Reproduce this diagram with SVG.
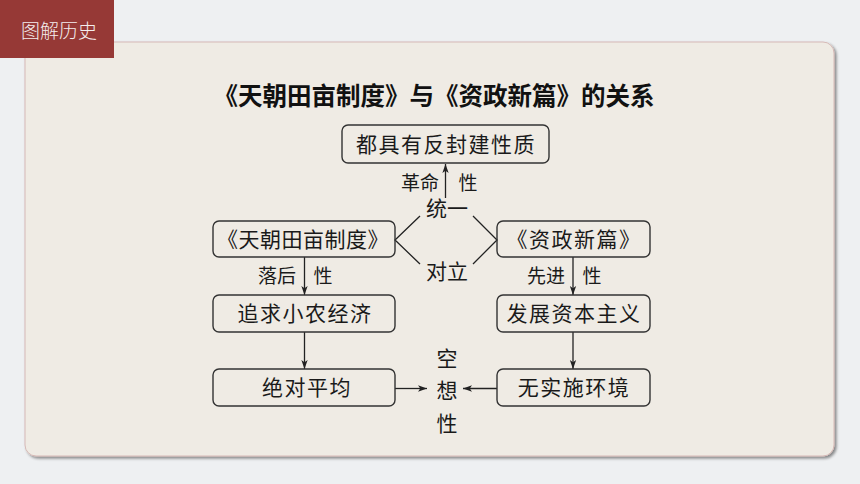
<svg xmlns="http://www.w3.org/2000/svg" width="860" height="484" viewBox="0 0 860 484">
<defs>
<marker id="ah" viewBox="0 0 10 10" refX="10" refY="5" markerWidth="9" markerHeight="9" markerUnits="userSpaceOnUse" orient="auto">
<path d="M0,1.5 L10,5 L0,8.5 L2.5,5 Z" fill="#222"/>
</marker>
<filter id="sh" x="-5%" y="-5%" width="110%" height="110%">
<feGaussianBlur in="SourceAlpha" stdDeviation="1.5"/>
<feOffset dx="2" dy="2"/>
<feComponentTransfer><feFuncA type="linear" slope="0.45"/></feComponentTransfer>
<feMerge><feMergeNode/><feMergeNode in="SourceGraphic"/></feMerge>
</filter>
</defs>
<style>
.box{fill:none;stroke:#333;stroke-width:1.4}
.bt{font-family:"Noto Sans CJK SC","Noto Sans",sans-serif;font-size:21px;fill:#1a1a1a;text-anchor:middle;letter-spacing:1.5px}
.lb{font-family:"Noto Sans CJK SC","Noto Sans",sans-serif;font-size:19px;fill:#1a1a1a;text-anchor:middle}
.lg{font-size:21px}
.cn{stroke:#222;stroke-width:1.3;fill:none}
</style>
<rect x="0" y="0" width="860" height="484" fill="#eef0f2"/>
<rect x="25" y="42" width="809" height="414" rx="11" fill="#efebe4" stroke="#d6b9b6" stroke-width="1" filter="url(#sh)"/>
<rect x="0" y="0" width="114" height="58" fill="#963936"/>
<text x="59" y="38" font-family="'Noto Sans CJK SC',sans-serif" font-size="19" fill="#f4eeee" text-anchor="middle" font-weight="300">图解历史</text>
<text x="434" y="105" font-family="'Noto Sans CJK SC',sans-serif" font-size="24.5" font-weight="bold" fill="#111" text-anchor="middle">《天朝田亩制度》与《资政新篇》的关系</text>

<g id="connectors">
<line class="cn" x1="445.5" y1="198" x2="445.5" y2="164" marker-end="url(#ah)"/>
<polyline class="cn" points="420,216 395,240 420,264"/>
<polyline class="cn" points="473,216 497,240 473,264"/>
<line class="cn" x1="304.5" y1="257" x2="304.5" y2="295" marker-end="url(#ah)"/>
<line class="cn" x1="573" y1="257" x2="573" y2="295" marker-end="url(#ah)"/>
<line class="cn" x1="304.5" y1="332" x2="304.5" y2="369" marker-end="url(#ah)"/>
<line class="cn" x1="573" y1="332" x2="573" y2="369" marker-end="url(#ah)"/>
<line class="cn" x1="395" y1="388.5" x2="427" y2="388.5" marker-end="url(#ah)"/>
<line class="cn" x1="497" y1="388.5" x2="463" y2="388.5" marker-end="url(#ah)"/>
<text class="lb" x="420" y="190">革命</text>
<text class="lb" x="468" y="190">性</text>
<text class="lb lg" x="447" y="216">统一</text>
<text class="lb lg" x="447" y="279">对立</text>
<text class="lb" x="277" y="283">落后</text>
<text class="lb" x="323" y="283">性</text>
<text class="lb" x="546" y="283">先进</text>
<text class="lb" x="592" y="283">性</text>
</g>

<g id="n-top"><rect class="box" x="342" y="125" width="207" height="38" rx="6"/><text class="bt" x="446" y="152">都具有反封建性质</text></g>
<g id="n-tianchao"><rect class="box" x="213" y="221" width="182" height="36" rx="6"/><text class="bt" x="303" y="247" style="letter-spacing:0.5px">《天朝田亩制度》</text></g>
<g id="n-zizheng"><rect class="box" x="497" y="221" width="153" height="36" rx="6"/><text class="bt" x="574" y="247">《资政新篇》</text></g>
<g id="n-xiaonong"><rect class="box" x="213" y="295" width="182" height="37" rx="6"/><text class="bt" x="305" y="321">追求小农经济</text></g>
<g id="n-ziben"><rect class="box" x="497" y="295" width="153" height="37" rx="6"/><text class="bt" x="574" y="321">发展资本主义</text></g>
<g id="n-pingjun"><rect class="box" x="213" y="369" width="182" height="37" rx="6"/><text class="bt" x="307" y="395">绝对平均</text></g>
<g id="n-huanjing"><rect class="box" x="497" y="369" width="153" height="37" rx="6"/><text class="bt" x="574" y="395">无实施环境</text></g>
<g id="n-kongxiang">
<text class="lb lg" x="447" y="366">空</text>
<text class="lb lg" x="447" y="398">想</text>
<text class="lb lg" x="447" y="431">性</text>
</g>
</svg>
